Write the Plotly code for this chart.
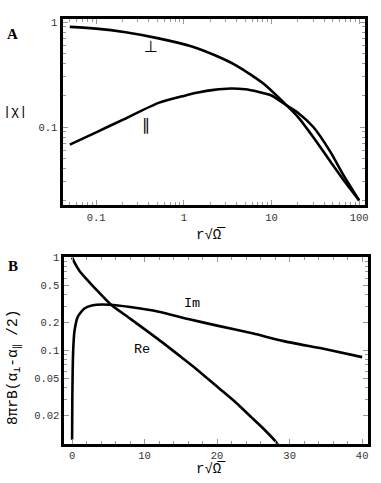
import numpy as np
import plotly.graph_objects as go

W, H = 381, 483

# Panel A: |chi| vs r*sqrt(Omega), log-log
perp_x = [0.05, 0.1, 0.217, 0.515, 1.21, 2.3, 4.07, 8.2, 15.0, 20.0, 30.0, 47.0, 66.0, 100.0]
perp_y = [0.90, 0.867, 0.80, 0.70, 0.589, 0.48, 0.381, 0.257, 0.160, 0.125, 0.080, 0.047, 0.0315, 0.020]
par_x = [0.05, 0.1, 0.2, 0.515, 1.0, 1.45, 2.2, 3.42, 5.0, 7.0, 10.0, 15.0, 20.0, 30.0, 47.0, 66.0, 100.0]
par_y = [0.068, 0.089, 0.117, 0.170, 0.198, 0.213, 0.226, 0.233, 0.229, 0.217, 0.200, 0.160, 0.137, 0.100, 0.058, 0.035, 0.020]

# Panel B: 8 pi r B (alpha_perp - alpha_par/2), log y
re_x = [0.0, 0.32, 1.0, 1.93, 3.0, 5.34, 8.0, 11.94, 15.0, 17.0, 20.15, 22.5, 24.7, 26.5, 28.1, 28.5]
re_y = [1.0, 0.885, 0.72, 0.59, 0.48, 0.312, 0.22, 0.131, 0.0857, 0.0647, 0.040, 0.028, 0.0193, 0.0142, 0.0105, 0.0095]
im_x = [0.0, 0.03, 0.08, 0.15, 0.32, 0.78, 1.7, 2.85, 5.3, 8.0, 11.94, 16.0, 20.0, 25.0, 29.0, 35.0, 40.0]
im_y = [0.011, 0.03, 0.06, 0.10, 0.16, 0.23, 0.283, 0.307, 0.31, 0.293, 0.261, 0.218, 0.185, 0.152, 0.127, 0.103, 0.085]

a_xticks = [0.1, 1, 10, 100]
a_xticklabels = ["0.1", "1", "10", "100"]
a_yticks = [0.1, 1]
a_yticklabels = ["0.1", "1"]
b_xticks = [0, 10, 20, 30, 40]
b_yticks = [0.02, 0.05, 0.1, 0.2, 0.5, 1]
b_yticklabels = ["0.02", "0.05", "0.1", "0.2", "0.5", "1"]


def fx(px):
    return px / W


def fy(py):
    return 1 - py / H


mono = "Liberation Mono, Courier New, monospace"
line = dict(color="black", width=2.6, shape="spline", smoothing=0.6)

fig = go.Figure()
fig.add_trace(go.Scatter(x=perp_x, y=perp_y, mode="lines", line=line, xaxis="x", yaxis="y"))
fig.add_trace(go.Scatter(x=par_x, y=par_y, mode="lines", line=line, xaxis="x", yaxis="y"))
fig.add_trace(go.Scatter(x=re_x, y=re_y, mode="lines", line=line, xaxis="x2", yaxis="y2"))
fig.add_trace(go.Scatter(x=im_x, y=im_y, mode="lines", line=line, xaxis="x2", yaxis="y2"))

minor_log_x = [m * 10.0 ** e for e in range(-2, 3) for m in range(2, 10)]
minor_log_y = [m * 10.0 ** e for e in range(-2, 1) for m in range(2, 10)]

ax_common = dict(showline=True, linecolor="black", linewidth=3, mirror="allticks",
                 ticks="inside", ticklen=5, tickcolor="#999", tickwidth=1,
                 showgrid=False, zeroline=False,
                 tickfont=dict(family=mono, size=10.5, color="#333"))
minor_common = dict(ticklen=3, tickcolor="#999", ticks="inside")

fig.update_layout(
    width=W, height=H, margin=dict(l=0, r=0, t=0, b=0),
    paper_bgcolor="white", plot_bgcolor="white", showlegend=False, hovermode=False,
    xaxis=dict(type="log", range=[-1.384, 2.068], domain=[fx(63), fx(368)], anchor="y",
               tickvals=a_xticks, ticktext=a_xticklabels,
               minor=dict(tickvals=minor_log_x, **minor_common), **ax_common),
    yaxis=dict(type="log", range=[-1.747, 0.031], domain=[fy(202.5), fy(14)], anchor="x",
               tickvals=a_yticks, ticktext=a_yticklabels,
               minor=dict(tickvals=minor_log_y, **minor_common), **ax_common),
    xaxis2=dict(range=[-1.05, 40.75], domain=[fx(65), fx(370.5)], anchor="y2",
                tickvals=b_xticks,
                minor=dict(dtick=2, tick0=0, **minor_common), **ax_common),
    yaxis2=dict(type="log", range=[-2, 0], domain=[fy(443.3), fy(255)], anchor="x2",
                tickvals=b_yticks, ticktext=b_yticklabels,
                minor=dict(tickvals=minor_log_y, **minor_common), **ax_common),
)

lab = dict(family=mono, size=13.5, color="black")
sym = dict(family="DejaVu Sans", size=16, color="black")
ann = [
    dict(x=np.log10(0.42), y=np.log10(0.59), xref="x", yref="y", text="⊥", font=sym),
    dict(x=np.log10(0.37), y=np.log10(0.106), xref="x", yref="y", text="∥", font=sym),
    dict(x=16.5, y=np.log10(0.32), xref="x2", yref="y2", text="Im", font=lab),
    dict(x=9.6, y=np.log10(0.102), xref="x2", yref="y2", text="Re", font=lab),
    dict(x=fx(13), y=fy(29), xref="paper", yref="paper", text="<b>A</b>",
         font=dict(family="Liberation Serif", size=15, color="black")),
    dict(x=fx(13), y=fy(264), xref="paper", yref="paper", text="<b>B</b>",
         font=dict(family="Liberation Serif", size=15, color="black")),
    dict(x=fx(15), y=fy(108), xref="paper", yref="paper", text="|χ|", font=lab),
    dict(x=fx(14), y=fy(366), xref="paper", yref="paper", textangle=-90,
         text="8πrB(α<sub>⊥</sub>-α<sub>∥</sub> /2)", font=dict(family=mono, size=14.5, color="black")),
    dict(x=fx(213), y=fy(232), xref="paper", yref="paper", text="r√Ω̅",
         font=dict(family=mono, size=14, color="black")),
    dict(x=fx(213), y=fy(469), xref="paper", yref="paper", text="r√Ω̅",
         font=dict(family=mono, size=14, color="black")),
]
for a in ann:
    a.update(showarrow=False, xanchor="center", yanchor="middle")
fig.update_layout(annotations=ann)

# drop the default 8px page margin so the figure fills the window
fig.write_html("out.html", config={"displayModeBar": False},
               post_script="document.body.style.margin='0px';")
